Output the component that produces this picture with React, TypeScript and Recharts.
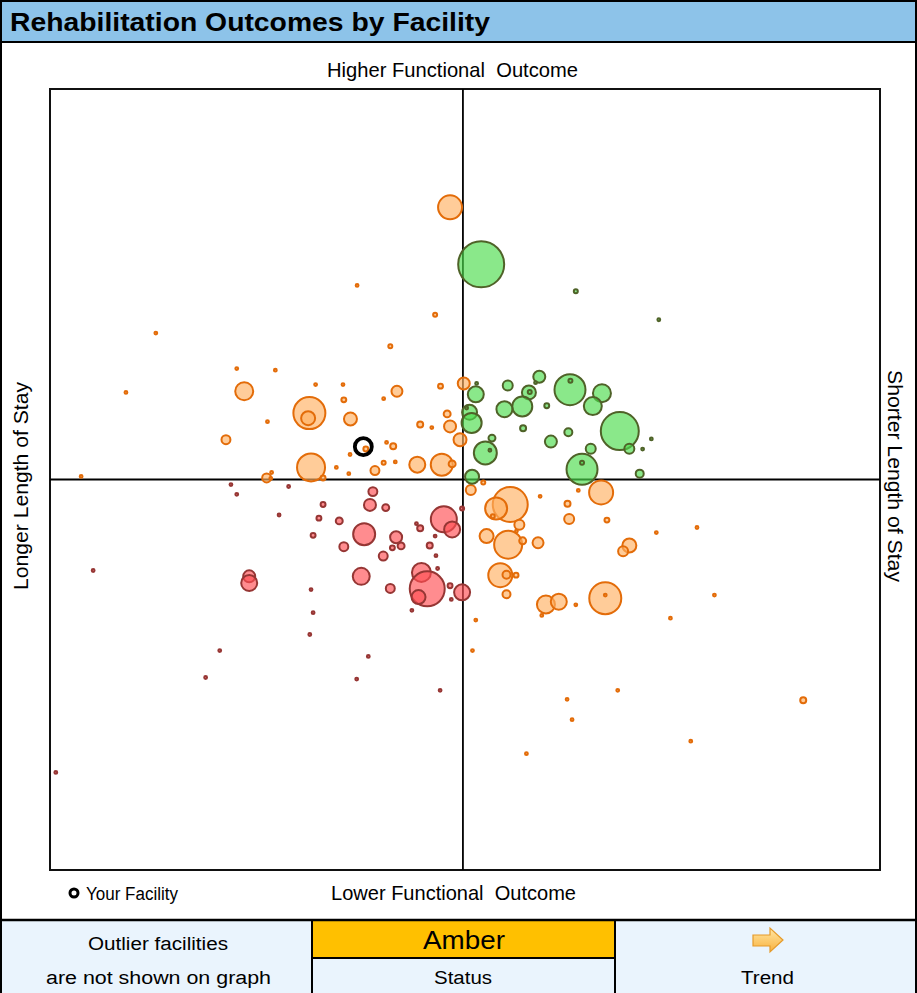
import React from "react";
import { ScatterChart, Scatter, XAxis, YAxis, ZAxis, ReferenceLine, ReferenceArea } from "recharts";

// [outcome index vs peers (x: LOS, y: function), bubble size]
const greenFacilities: [number, number, number][] = [
  [4.4, 55.1, 529], [27.2, 48.2, 4], [47.2, 40.9, 2], [3.3, 24.6, 2], [3.1, 21.8, 64],
  [10.8, 24.1, 25], [18.4, 26.3, 36], [17.5, 24.8, 2], [15.9, 22.3, 49], [16.1, 22.4, 4],
  [14.3, 18.7, 100], [10.0, 18.0, 64], [25.8, 23.0, 240], [25.9, 25.3, 4], [33.5, 22.1, 81],
  [31.3, 18.8, 81], [20.2, 18.9, 6], [1.6, 17.2, 56], [0.9, 18.3, 2], [2.1, 14.5, 100],
  [14.5, 13.1, 9], [25.4, 12.1, 16], [37.8, 12.4, 361], [45.4, 10.4, 2], [21.2, 9.7, 36],
  [7.0, 10.6, 12], [5.4, 6.8, 132], [6.5, 7.5, 2], [30.8, 7.9, 25], [40.1, 7.9, 25],
  [43.3, 7.8, 2], [28.7, 2.6, 240], [28.7, 4.3, 4], [42.6, 1.5, 16], [2.2, 0.7, 49],
];

const amberFacilities: [number, number, number][] = [
  [-3.1, 69.7, 144], [-25.5, 49.7, 2], [-6.7, 42.2, 4], [-74.0, 37.5, 2], [-17.5, 34.1, 4],
  [-54.5, 28.4, 2], [-45.2, 28.0, 2], [-81.2, 22.3, 2], [-52.7, 22.6, 81], [-35.5, 24.3, 2],
  [-28.9, 24.3, 2], [-37.0, 17.0, 256], [-37.3, 15.7, 49], [-28.7, 20.4, 6], [-27.1, 15.5, 42],
  [-19.1, 20.7, 2], [-15.9, 22.6, 30], [-5.4, 23.9, 6], [0.2, 24.6, 36], [-47.1, 14.8, 2],
  [-57.1, 10.2, 20], [-23.4, 7.8, 6], [-18.4, 9.5, 2], [-16.8, 8.5, 9], [-27.2, 6.4, 2],
  [-10.3, 14.1, 9], [-7.5, 13.3, 2], [-3.1, 13.6, 36], [-3.8, 16.8, 12], [-0.7, 10.2, 42],
  [-36.6, 3.1, 196], [-30.5, 3.1, 2], [-27.5, 1.5, 2], [-21.2, 2.3, 20], [-19.1, 4.3, 4],
  [-16.3, 4.5, 2], [-11.0, 3.8, 64], [-5.1, 3.8, 121], [-2.6, 4.0, 12], [-47.3, 0.4, 20],
  [-46.3, 0.3, 2], [-46.1, 1.8, 2], [-33.7, 0.4, 6], [-92.0, 0.8, 2], [1.9, -2.7, 25],
  [4.9, -0.8, 4], [11.4, -6.4, 306], [8.0, -7.4, 121], [7.2, -9.4, 4], [18.6, -4.3, 2],
  [27.8, -2.8, 2], [33.3, -3.3, 144], [25.2, -6.2, 9], [13.6, -11.6, 25], [25.6, -10.1, 25],
  [34.7, -10.4, 6], [5.7, -14.5, 49], [10.9, -16.7, 196], [14.4, -15.7, 12], [12.9, -13.2, 2],
  [18.1, -16.2, 30], [46.6, -13.6, 2], [56.4, -12.3, 2], [40.1, -16.9, 49], [38.6, -18.4, 25],
  [9.0, -24.5, 144], [10.5, -24.4, 16], [12.8, -24.5, 6], [10.5, -29.4, 16], [20.0, -32.0, 81],
  [23.1, -31.3, 64], [27.2, -32.1, 2], [34.3, -30.4, 256], [34.3, -29.6, 2], [19.0, -34.8, 2],
  [3.1, -36.0, 2], [50.0, -35.5, 2], [60.6, -29.6, 2], [2.3, -43.8, 2], [37.3, -54.0, 2],
  [82.0, -56.5, 9], [25.1, -56.3, 2], [26.3, -61.5, 2], [54.9, -67.0, 2], [15.3, -70.2, 2],
];

const redFacilities: [number, number, number][] = [
  [-55.9, -1.3, 2], [-54.5, -3.8, 2], [-42.0, -1.8, 2], [-44.3, -9.1, 2], [-33.7, -6.4, 6],
  [-34.7, -9.9, 6], [-36.1, -14.3, 6], [-21.7, -3.1, 20], [-22.4, -6.5, 36], [-18.6, -7.2, 12],
  [-29.8, -10.6, 12], [-23.8, -14.0, 121], [-28.7, -17.2, 20], [-16.1, -14.8, 36], [-14.9, -17.0, 12],
  [-17.0, -17.5, 6], [-19.2, -19.6, 20], [-11.2, -11.3, 2], [-10.3, -12.5, 9], [-6.7, -14.5, 2],
  [-8.0, -16.9, 9], [-6.5, -19.5, 2], [-6.1, -22.8, 2], [-4.6, -10.2, 169], [-2.6, -12.8, 64],
  [-0.2, -7.4, 4], [-51.5, -24.8, 36], [-51.5, -26.5, 64], [-36.6, -28.2, 2], [-36.1, -34.1, 2],
  [-36.9, -39.7, 2], [-24.5, -24.8, 72], [-17.5, -27.9, 20], [-10.0, -23.8, 90], [-8.6, -28.0, 306],
  [-10.7, -30.1, 49], [-3.1, -27.2, 6], [-2.8, -30.7, 2], [-0.2, -28.9, 64], [-12.3, -33.5, 2],
  [-89.1, -23.3, 2], [-58.6, -43.8, 2], [-62.0, -50.7, 2], [-22.8, -45.3, 2], [-25.6, -51.1, 2],
  [-5.5, -54.0, 2], [-98.1, -75.0, 2],
];

const yourFacility: [number, number, number][] = [[-24.0, 8.4, 72]];

const toPoints = (rows: [number, number, number][]) => rows.map(([x, y, z]) => ({ x, y, z }));

const FONT = "'Liberation Sans', Arial, sans-serif";

export default function App() {
  return (
    <div style={{ position: "absolute", left: 0, top: 0, width: 917, height: 993, background: "#fff", overflow: "hidden", fontFamily: FONT }}>
      <div style={{ position: "absolute", left: 0, top: 0 }}>
        <ScatterChart width={917} height={993} margin={{ top: 89, left: 50, right: 37, bottom: 123 }}>
          <XAxis type="number" dataKey="x" domain={[-99.5, 100.5]} hide />
          <YAxis type="number" dataKey="y" domain={[-100, 100]} hide />
          <ZAxis type="number" dataKey="z" domain={[0, 600]} range={[0, 600 * Math.PI]} />
          <Scatter data={toPoints(amberFacilities)} fill="#FFB162" fillOpacity={0.65} stroke="#E36C09" strokeWidth={2} isAnimationActive={false} />
          <Scatter data={toPoints(redFacilities)} fill="#FF4E53" fillOpacity={0.65} stroke="#963634" strokeWidth={2} isAnimationActive={false} />
          <Scatter data={toPoints(greenFacilities)} fill="#4CDC4C" fillOpacity={0.65} stroke="#4F6228" strokeWidth={2} isAnimationActive={false} />
          <Scatter data={toPoints(yourFacility)} fill="none" stroke="#000" strokeWidth={3.8} isAnimationActive={false} />
          <ReferenceLine x={0} stroke="#000" strokeWidth={1.8} />
          <ReferenceLine y={0} stroke="#000" strokeWidth={1.8} />
          <ReferenceArea x1={-99.5} x2={100.5} y1={-100} y2={100} fill="none" stroke="#111" strokeWidth={2} ifOverflow="visible" />
        </ScatterChart>
      </div>

      <svg width={917} height={993} style={{ position: "absolute", left: 0, top: 0, pointerEvents: "none" }} fontFamily={FONT}>
        <defs>
          <linearGradient id="arrowFill" x1="0" y1="0" x2="0" y2="1">
            <stop offset="0" stopColor="#FFE7A6" />
            <stop offset="1" stopColor="#F9B13C" />
          </linearGradient>
        </defs>

        {/* title bar */}
        <rect x={0} y={0} width={917} height={42} fill="#8DC3E9" />
        <line x1={0} y1={42} x2={917} y2={42} stroke="#000" strokeWidth={2} />
        <text x={10} y={31} fontSize={25} fontWeight="bold" fill="#000" textLength={480} lengthAdjust="spacingAndGlyphs">
          Rehabilitation Outcomes by Facility
        </text>

        {/* quadrant labels */}
        <text x={452.5} y={77} fontSize={21} textAnchor="middle" textLength={251} lengthAdjust="spacingAndGlyphs" style={{ whiteSpace: "pre" }}>
          {"Higher Functional  Outcome"}
        </text>
        <text x={453.5} y={900} fontSize={21} textAnchor="middle" textLength={245} lengthAdjust="spacingAndGlyphs" style={{ whiteSpace: "pre" }}>
          {"Lower Functional  Outcome"}
        </text>
        <text transform="translate(28,486) rotate(-90)" fontSize={20} textAnchor="middle" textLength={208} lengthAdjust="spacingAndGlyphs">
          Longer Length of Stay
        </text>
        <text transform="translate(888,476) rotate(90)" fontSize={20} textAnchor="middle" textLength={212} lengthAdjust="spacingAndGlyphs">
          Shorter Length of Stay
        </text>

        {/* legend */}
        <circle cx={74} cy={893} r={4} fill="#fff" stroke="#000" strokeWidth={3} />
        <text x={86} y={900} fontSize={18} textLength={92} lengthAdjust="spacingAndGlyphs">Your Facility</text>

        {/* status panel */}
        <rect x={0} y={920} width={917} height={73} fill="#EAF4FD" />
        <rect x={312} y={921} width={303} height={37} fill="#FFC000" />
        <line x1={0} y1={920} x2={917} y2={920} stroke="#000" strokeWidth={2.5} />
        <line x1={312} y1={920} x2={312} y2={993} stroke="#000" strokeWidth={2} />
        <line x1={615} y1={920} x2={615} y2={993} stroke="#000" strokeWidth={2} />
        <line x1={312} y1={958} x2={615} y2={958} stroke="#000" strokeWidth={2} />
        <text x={158} y={950} fontSize={18} textAnchor="middle" textLength={140} lengthAdjust="spacingAndGlyphs">Outlier facilities</text>
        <text x={158.5} y={984} fontSize={18} textAnchor="middle" textLength={225} lengthAdjust="spacingAndGlyphs">are not shown on graph</text>
        <text x={464} y={949} fontSize={25} textAnchor="middle" textLength={82} lengthAdjust="spacingAndGlyphs">Amber</text>
        <text x={463} y={984} fontSize={18} textAnchor="middle" textLength={58} lengthAdjust="spacingAndGlyphs">Status</text>
        <text x={767.5} y={984} fontSize={18} textAnchor="middle" textLength={53} lengthAdjust="spacingAndGlyphs">Trend</text>
        <polygon points="753,935 770,935 770,928 783,940 770,952 770,946 753,946" fill="url(#arrowFill)" stroke="#E59A2A" strokeWidth={1.2} />

        {/* outer frame */}
        <line x1={1} y1={0} x2={1} y2={993} stroke="#000" strokeWidth={2} />
        <line x1={916} y1={0} x2={916} y2={993} stroke="#000" strokeWidth={2} />
        <line x1={0} y1={1} x2={917} y2={1} stroke="#000" strokeWidth={2} />
      </svg>
    </div>
  );
}
